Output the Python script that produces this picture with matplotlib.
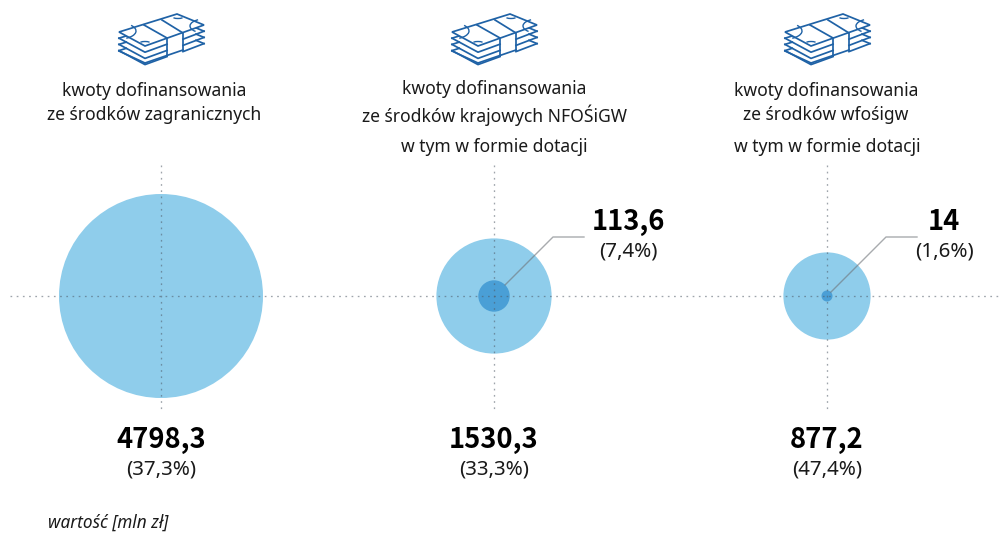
import numpy as np
import matplotlib
matplotlib.use("Agg")
import matplotlib.pyplot as plt
from matplotlib.patches import Circle, Arc, Polygon

plt.rcParams['font.family'] = ['Noto Sans', 'DejaVu Sans']

# dane
headers = ["kwoty dofinansowania\nze środków zagranicznych",
           "kwoty dofinansowania\nze środków krajowych NFOŚiGW",
           "kwoty dofinansowania\nze środków wfośigw"]
sub_headers = ["", "w tym w formie dotacji", "w tym w formie dotacji"]
totals = [4798.3, 1530.3, 877.2]
total_labels = ["4798,3", "1530,3", "877,2"]
total_shares = ["(37,3%)", "(33,3%)", "(47,4%)"]
grants = [None, 113.6, 14]
grant_labels = [None, "113,6", "14"]
grant_shares = [None, "(7,4%)", "(1,6%)"]

centers = [161, 494, 827]
header_x = [154.5, 494, 826]
axis_y = 296
px_per_sqrt = 102 / np.sqrt(4798.3)

BLUE = "#8fcdeb"
DARK = "#4a9fd6"
ICON = "#1f62a6"
GRID = "#4f5a66"
TXT = "#1a1a1a"
DOTS = (0, (1.3, 3.4))
BOLD = ['Noto Sans CJK JP', 'DejaVu Sans']

fig = plt.figure(figsize=(9.99, 5.33), dpi=100)
ax = fig.add_axes([0, 0, 1, 1])
ax.set_xlim(0, 999)
ax.set_ylim(533, 0)
ax.axis("off")


def draw_icon(cx):
    # plik banknotow
    lw = 1.25
    for i in [3, 2, 1]:
        dy = i * 6.2
        ax.plot([cx - 42, cx - 16, cx + 6], [32 + dy, 46 + dy, 38 + dy], color=ICON, lw=lw, zorder=5)
        ax.plot([cx + 22, cx + 43], [33 + dy, 25 + dy], color=ICON, lw=lw, zorder=5)
        ax.plot([cx + 43, cx + 35], [25 + dy, 21.7 + dy], color=ICON, lw=lw, zorder=5)
        ax.plot([cx - 42, cx - 34.7], [32 + dy, 29.7 + dy], color=ICON, lw=lw, zorder=5)
    top = Polygon([(cx - 42, 32), (cx - 16, 46), (cx + 43, 25), (cx + 16, 14)], closed=True,
                  fc="white", ec=ICON, lw=lw, zorder=6)
    ax.add_patch(top)
    # opaska
    ax.plot([cx - 17, cx + 6, cx + 6], [25, 38, 56], color=ICON, lw=lw, zorder=7)
    ax.plot([cx + 1, cx + 22, cx + 22], [20, 33, 50], color=ICON, lw=lw, zorder=7)
    ax.plot([cx - 16, cx + 22], [63, 50], color=ICON, lw=lw, zorder=7)
    ax.plot([cx - 42, cx - 16], [51, 63], color=ICON, lw=lw, zorder=7)
    # ozdoby
    ax.add_patch(Arc((cx - 42, 31), 34, 16, theta1=-25, theta2=45, ec=ICON, lw=1.0, zorder=8))
    ax.add_patch(Arc((cx - 16, 46), 17, 9, theta1=220, theta2=320, ec=ICON, lw=1.0, zorder=8))
    ax.add_patch(Arc((cx + 17, 14), 17, 9, theta1=40, theta2=140, ec=ICON, lw=1.0, zorder=8))
    ax.add_patch(Arc((cx + 44, 26), 30, 14, theta1=150, theta2=222, ec=ICON, lw=1.0, zorder=8))


ax.plot([10, 999], [axis_y, axis_y], color=GRID, lw=0.95, alpha=0.55, ls=DOTS, zorder=4)

for i, cx in enumerate(centers):
    draw_icon(cx)
    ax.text(header_x[i], 103, headers[i], ha="center", va="center", fontsize=12.6,
            color=TXT, linespacing=1.37)
    if sub_headers[i]:
        ax.text(cx, 147, sub_headers[i], ha="center", va="center", fontsize=12.6, color=TXT)

    ax.add_patch(Circle((cx, axis_y), px_per_sqrt * np.sqrt(totals[i]), fc=BLUE, ec="none", zorder=2))
    ax.plot([cx, cx], [165, 412], color=GRID, lw=0.95, alpha=0.55, ls=DOTS, zorder=4)

    ax.text(cx, 440, total_labels[i], ha="center", va="center", fontsize=19.7, fontweight="bold",
            family=BOLD, color="black")
    ax.text(cx, 469, total_shares[i], ha="center", va="center", fontsize=14.8, color=TXT)

    if grants[i] is not None:
        r = px_per_sqrt * np.sqrt(grants[i])
        ax.add_patch(Circle((cx, axis_y), r, fc=DARK, ec="none", zorder=3))
        d = r * 0.707
        ax.plot([cx + d, cx + 59, cx + 90], [axis_y - d, 237, 237], color="#6e7378", lw=1.0, alpha=0.6, zorder=4)
        lx = cx + 134 if i == 1 else cx + 117
        ax.text(lx, 222, grant_labels[i], ha="center", va="center", fontsize=19.7, fontweight="bold",
                family=BOLD, color="black")
        ax.text(lx, 252, grant_shares[i], ha="center", va="center", fontsize=14.8, color=TXT)

ax.text(48, 523, "wartość [mln zł]", ha="left", va="center", fontsize=12.4, style="italic", color=TXT)

fig.savefig("out.png", dpi=100)
